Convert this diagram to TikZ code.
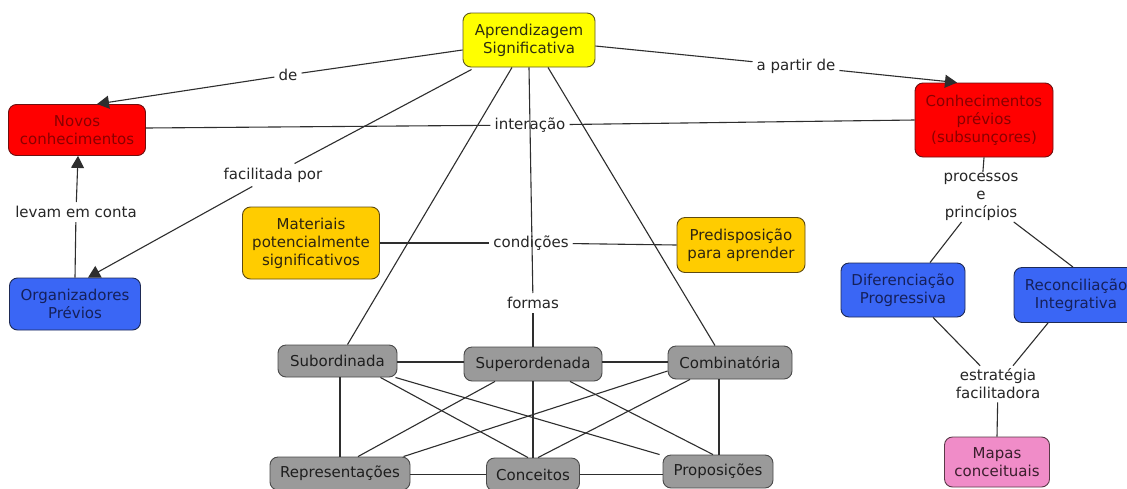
\documentclass[tikz,border=0pt]{standalone}
\usepackage{fontspec}
\setmainfont{DejaVu Sans}
\usetikzlibrary{arrows.meta}

\definecolor{cYel}{HTML}{FFFF00}
\definecolor{cYelB}{HTML}{5E5A20}
\definecolor{cYelT}{HTML}{2E2E10}
\definecolor{cRed}{HTML}{FF0000}
\definecolor{cRedB}{HTML}{6E1010}
\definecolor{cRedT}{HTML}{8A0000}
\definecolor{cBlue}{HTML}{3A66F5}
\definecolor{cBlueB}{HTML}{1E2A55}
\definecolor{cBlueT}{HTML}{15205A}
\definecolor{cOra}{HTML}{FFCC00}
\definecolor{cOraB}{HTML}{5E4A10}
\definecolor{cOraT}{HTML}{2E2410}
\definecolor{cPink}{HTML}{F08CC8}
\definecolor{cPinkB}{HTML}{5A3A48}
\definecolor{cPinkT}{HTML}{3A1E2C}
\definecolor{cGray}{HTML}{9A9A9A}
\definecolor{cGrayB}{HTML}{4A4A4A}
\definecolor{cGrayT}{HTML}{1E1E1E}
\definecolor{cLine}{HTML}{2E2E2E}

\begin{document}
\begin{tikzpicture}[x=1pt,y=-1pt,
  every node/.style={font=\fontsize{15}{18}\selectfont, align=center},
  box/.style={rounded corners=8pt, line width=0.9pt, inner sep=0pt},
  ybox/.style={box, fill=cYel, draw=cYelB, text=cYelT},
  rbox/.style={box, fill=cRed, draw=cRedB, text=cRedT},
  bbox/.style={box, fill=cBlue, draw=cBlueB, text=cBlueT},
  obox/.style={box, fill=cOra, draw=cOraB, text=cOraT},
  pbox/.style={box, fill=cPink, draw=cPinkB, text=cPinkT},
  gbox/.style={box, fill=cGray, draw=cGrayB, text=cGrayT, minimum height=33pt},
  lab/.style={inner sep=4pt, text=black!85},
  ln/.style={draw=cLine, line width=1.1pt},
  arr/.style={ln, -{Triangle[length=12pt,width=13pt]}}]

\useasboundingbox (0,0) rectangle (1127,488);
\fill[white] (0,0) rectangle (1127,488);

% concepts
\node[ybox, minimum width=132pt, minimum height=54pt] (aprend) at (529,40) {Aprendizagem\\Significativa};
\node[rbox, minimum width=137pt, minimum height=51pt] (novos) at (77,130) {Novos\\conhecimentos};
\node[bbox, minimum width=131pt, minimum height=52pt] (org) at (75,304) {Organizadores\\Prévios};
\node[rbox, minimum width=138pt, minimum height=74pt] (conhec) at (984,120) {Conhecimentos\\prévios\\(subsunçores)};
\node[obox, minimum width=137pt, minimum height=72pt] (mater) at (311,243) {Materiais\\potencialmente\\significativos};
\node[obox, minimum width=128pt, minimum height=55pt] (predisp) at (741,245) {Predisposição\\para aprender};
\node[bbox, minimum width=124pt, minimum height=54pt] (dif) at (903,290) {Diferenciação\\Progressiva};
\node[bbox, minimum width=124pt, minimum height=55pt] (recon) at (1076,295) {Reconciliação\\Integrativa};
\node[pbox, minimum width=105pt, minimum height=50pt] (mapas) at (997,462) {Mapas\\conceituais};

% forms of learning
\node[gbox, minimum width=119pt, minimum height=32pt] (sub) at (337.5,361) {Subordinada};
\node[gbox, minimum width=138pt, minimum height=34pt] (sup) at (533,364) {Superordenada};
\node[gbox, minimum width=124pt] (comb) at (730,362.5) {Combinatória};
\node[gbox, minimum width=140pt] (rep) at (340,473.5) {Representações};
\node[gbox, minimum width=93pt] (conc) at (533,474.5) {Conceitos};
\node[gbox, minimum width=110pt] (prop) at (718,471.5) {Proposições};

% linking phrases
\node[lab] (de) at (288,75) {de};
\node[lab] (apd) at (796,66) {a partir de};
\node[lab] (inter) at (530,125) {interação};
\node[lab] (fac) at (273,175) {facilitada por};
\node[lab] (lev) at (76,212) {levam em conta};
\node[lab] (cond) at (531,243) {condições};
\node[lab] (formas) at (533,303) {formas};
\node[lab, inner sep=1pt] (proc) at (981,197) {processos\\e\\princípios};
\node[lab, inner sep=3pt] (estr) at (998,384) {estratégia\\facilitadora};

% connectors
\draw[ln] ([yshift=-10pt]aprend.west) -- (de);
\draw[arr] (de) -- ([xshift=20pt]novos.north);
\draw[ln] ([yshift=-6pt]aprend.east) -- (apd);
\draw[arr] (apd) -- ([xshift=-27pt]conhec.north);
\draw[ln] ([yshift=2pt]novos.east) -- (inter);
\draw[ln] (inter) -- (conhec.west);
\draw[ln] ([xshift=9pt,yshift=-2pt]aprend.south west) -- (fac);
\draw[arr] (fac) -- ([xshift=13pt]org.north);
\draw[ln] (org.north) -- (lev);
\draw[arr] (lev) -- ([xshift=1pt]novos.south);
\draw[ln] ([xshift=-17pt]aprend.south) -- ([xshift=10pt]sub.north);
\draw[ln] (aprend.south) -- (formas);
\draw[ln] (formas) -- (sup.north);
\draw[ln] ([xshift=19pt]aprend.south) -- ([xshift=-15pt]comb.north);
\draw[ln] (mater) -- (cond);
\draw[ln] (cond) -- (predisp.west);
\draw[ln] (conhec.south) -- (proc);
\draw[ln] (proc) -- ([xshift=27pt]dif.north);
\draw[ln] (proc) -- ([xshift=-3pt]recon.north);
\draw[ln] ([xshift=30pt]dif.south) -- (estr);
\draw[ln] ([xshift=-28pt]recon.south) -- (estr);
\draw[ln] (estr) -- (mapas.north);

% links among the forms of learning
\draw[ln] ([yshift=-1pt]sub.east) -- ([yshift=-1pt]sub.east -| sup.west);
\draw[ln] ([yshift=2pt]sup.east) -- ([yshift=2pt]sup.east -| comb.west);
\draw[ln] (rep.east |- conc.west) -- (conc.west);
\draw[ln] (conc.east) -- (conc.east -| prop.west);
\draw[ln] (rep.north) -- (rep.north |- sub.south);
\draw[ln] ([xshift=-17pt]sub.south east) -- ([xshift=-5pt]conc.north);
\draw[ln] ([xshift=-2pt]sub.south east) -- ([xshift=-3pt]prop.north west);
\draw[ln] ([xshift=-38pt]sup.south) -- ([xshift=18pt]rep.north);
\draw[ln] (sup.south) -- (conc.north);
\draw[ln] ([xshift=37pt]sup.south) -- ([xshift=-5pt]prop.north);
\draw[ln] ([yshift=-8.5pt]comb.west) -- ([xshift=-7pt]rep.north east);
\draw[ln] ([xshift=-40pt]comb.south) -- ([xshift=5pt]conc.north);
\draw[ln] ([xshift=-11pt]comb.south) -- ([xshift=1pt]prop.north);
\end{tikzpicture}
\end{document}
